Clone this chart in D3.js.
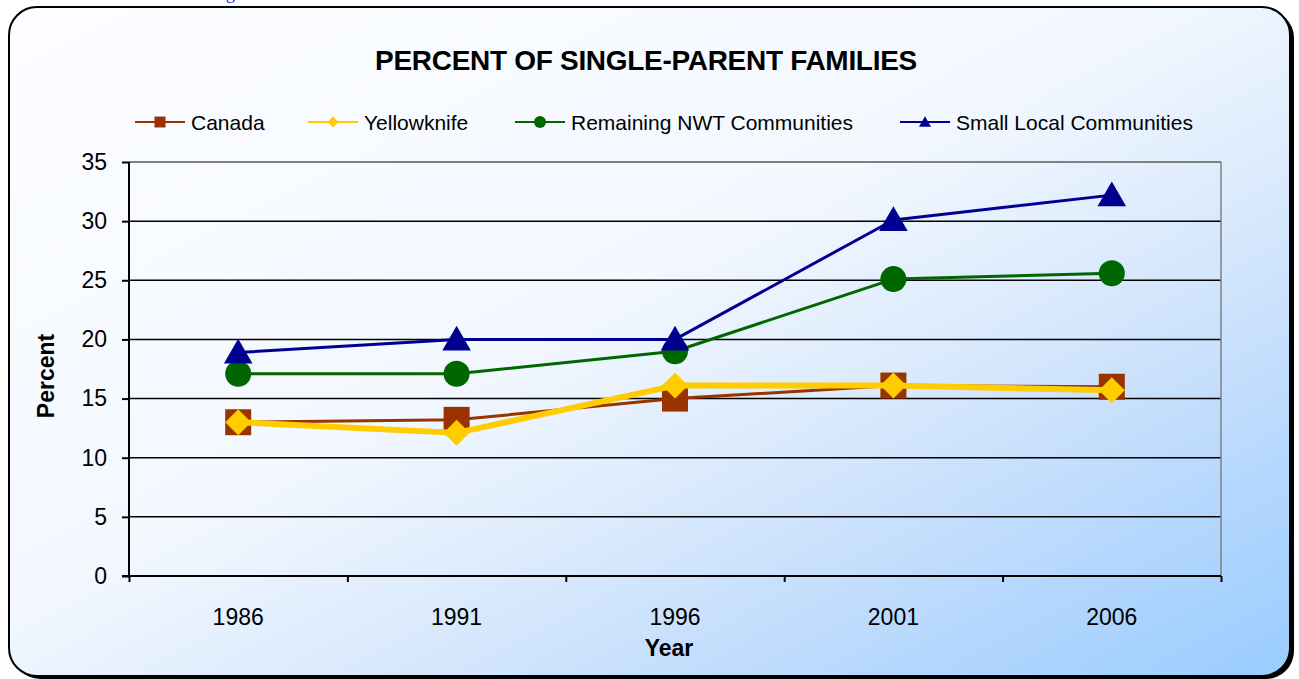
<!DOCTYPE html>
<html>
<head>
<meta charset="utf-8">
<script src="https://cdn.jsdelivr.net/npm/d3@7"></script>
<style>
  body { margin: 0; background: #fff; }
  svg { display: block; font-family: "Liberation Sans", Arial, sans-serif; }
</style>
</head>
<body>
<div id="chart"></div>
<script>
var years = ["1986", "1991", "1996", "2001", "2006"];
var canada = [13.0, 13.2, 15.0, 16.1, 16.0];
var yellowknife = [13.0, 12.1, 16.1, 16.1, 15.7];
var remainingNwt = [17.1, 17.1, 19.0, 25.1, 25.6];
var smallLocal = [18.9, 20.0, 20.0, 30.1, 32.2];
var yTicks = [0, 5, 10, 15, 20, 25, 30, 35];

var series = [
    { name: "Canada", values: canada, color: "#993300", shape: "square", width: 3 },
    { name: "Yellowknife", values: yellowknife, color: "#ffcc00", shape: "diamond", width: 6 },
    { name: "Remaining NWT Communities", values: remainingNwt, color: "#006600", shape: "circle", width: 3 },
    { name: "Small Local Communities", values: smallLocal, color: "#000090", shape: "triangle", width: 3 }
];

var W = 1299, H = 679;
var svg = d3.select("#chart").append("svg").attr("width", W).attr("height", H);

var defs = svg.append("defs");
var grad = defs.append("linearGradient").attr("id", "bg")
    .attr("x1", 0).attr("y1", 0).attr("x2", 1).attr("y2", 1);
grad.append("stop").attr("offset", 0).attr("stop-color", "#fcfdff");
grad.append("stop").attr("offset", 0.45).attr("stop-color", "#f3f8ff");
grad.append("stop").attr("offset", 0.62).attr("stop-color", "#dbeafc");
grad.append("stop").attr("offset", 0.8).attr("stop-color", "#bcdafd");
grad.append("stop").attr("offset", 1).attr("stop-color", "#99ccff");

// clipped link text above the frame
svg.append("text").attr("x", 226).attr("y", -1)
    .style("font-family", "Liberation Serif, Times New Roman, serif")
    .style("font-size", "18px").style("fill", "#1a1acc").text("g");

// frame with shadow
svg.append("rect").attr("x", 12).attr("y", 10).attr("width", 1282).attr("height", 669)
    .attr("rx", 28).attr("fill", "#000");
svg.append("rect").attr("x", 9).attr("y", 7).attr("width", 1281).attr("height", 669)
    .attr("rx", 28).attr("fill", "url(#bg)").attr("stroke", "#000").attr("stroke-width", 2);

var plotLeft = 129, plotRight = 1221, plotTop = 162, plotBottom = 576;

var x = d3.scaleBand().domain(years).range([plotLeft, plotRight]).padding(0);
var xEdge = d3.scaleLinear().domain([0, years.length]).range([plotLeft, plotRight]);
var y = d3.scaleLinear().domain([0, 35]).range([plotBottom, plotTop]);

// gridlines
svg.append("g").selectAll("line").data(yTicks.filter(function(d) { return d > 0; }))
    .enter().append("line")
    .attr("x1", plotLeft).attr("x2", plotRight)
    .attr("y1", function(d) { return y(d); }).attr("y2", function(d) { return y(d); })
    .attr("stroke", function(d) { return d == 35 ? "#808080" : "#000"; })
    .attr("stroke-width", function(d) { return d == 35 ? 2 : 1.5; });
svg.append("line").attr("x1", plotRight).attr("x2", plotRight).attr("y1", plotTop).attr("y2", plotBottom)
    .attr("stroke", "#808080").attr("stroke-width", 1.5);

// y axis
var gy = svg.append("g").attr("transform", "translate(" + plotLeft + ",0)")
    .call(d3.axisLeft(y).tickValues(yTicks).tickSize(7).tickPadding(15));
gy.selectAll("path,line").attr("stroke", "#000").attr("stroke-width", 2);
gy.select(".domain").attr("d", "M0," + plotTop + "V" + plotBottom);
gy.selectAll("text").attr("font-family", null).attr("font-size", null)
    .style("font-size", "23px").style("fill", "#000");

// x axis
var gx = svg.append("g").attr("transform", "translate(0," + plotBottom + ")")
    .call(d3.axisBottom(xEdge).tickValues(d3.range(years.length + 1)).tickSize(6).tickFormat(""));
gx.selectAll("path,line").attr("stroke", "#000").attr("stroke-width", 2);
gx.select(".domain").attr("d", "M" + (plotLeft - 7) + ",0H" + plotRight);

svg.append("g").selectAll("text").data(years).enter().append("text")
    .attr("x", function(d) { return x(d) + x.bandwidth() / 2; })
    .attr("y", 625).attr("text-anchor", "middle")
    .style("font-size", "23px").text(function(d) { return d; });

// axis titles
svg.append("text").attr("x", 669).attr("y", 656).attr("text-anchor", "middle")
    .style("font-size", "23px").style("font-weight", "bold").text("Year");
svg.append("text").attr("transform", "translate(54,376) rotate(-90)").attr("text-anchor", "middle")
    .style("font-size", "23px").style("font-weight", "bold").text("Percent");

// title
svg.append("text").attr("x", 646).attr("y", 70).attr("text-anchor", "middle")
    .style("font-size", "28px").style("font-weight", "bold").style("letter-spacing", "-0.3px")
    .text("PERCENT OF SINGLE-PARENT FAMILIES");

function marker(g, shape, size, color) {
    var s = size / 2;
    if (shape == "square")
        g.append("rect").attr("x", -s).attr("y", -s).attr("width", size).attr("height", size).attr("fill", color);
    else if (shape == "diamond")
        g.append("path").attr("d", "M0," + (-s) + "L" + s + ",0L0," + s + "L" + (-s) + ",0Z").attr("fill", color);
    else if (shape == "circle")
        g.append("circle").attr("r", s).attr("fill", color);
    else
        g.append("path").attr("d", "M0," + (-s * 1.05) + "L" + s * 1.1 + "," + s * 0.85 + "L" + (-s * 1.1) + "," + s * 0.85 + "Z").attr("fill", color);
}

var line = d3.line()
    .x(function(d, i) { return x(years[i]) + x.bandwidth() / 2; })
    .y(function(d) { return y(d); });

series.forEach(function(s) {
    var g = svg.append("g");
    g.append("path").attr("d", line(s.values)).attr("fill", "none")
        .attr("stroke", s.color).attr("stroke-width", s.width).attr("stroke-linejoin", "round");
    s.values.forEach(function(v, i) {
        var m = g.append("g").attr("transform", "translate(" + (x(years[i]) + x.bandwidth() / 2) + "," + y(v) + ")");
        marker(m, s.shape, 26, s.color);
    });
});

// legend
var legendX = [135, 308, 515, 900];
series.forEach(function(s, i) {
    var g = svg.append("g").attr("transform", "translate(" + legendX[i] + ",122)");
    g.append("line").attr("x1", 0).attr("x2", 50).attr("stroke", s.color).attr("stroke-width", 2);
    var m = g.append("g").attr("transform", "translate(25,0)");
    marker(m, s.shape, s.shape == "circle" ? 12 : 11, s.color);
    g.append("text").attr("x", 56).attr("y", 8).style("font-size", "21px").text(s.name);
});
</script>
</body>
</html>
